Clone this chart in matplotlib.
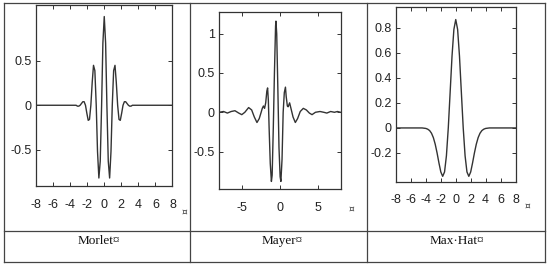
import matplotlib.pyplot as plt

# Morlet wavelet
morlet_x = [-8, -3.3, -3.14, -2.98, -2.83, -2.67, -2.51, -2.36, -2.2, -2.04, -1.88, -1.73,
            -1.57, -1.41, -1.26, -1.1, -0.94, -0.79, -0.63, -0.47, -0.31, -0.16, 0,
            0.16, 0.31, 0.47, 0.63, 0.79, 0.94, 1.1, 1.26, 1.41, 1.57, 1.73, 1.88,
            2.04, 2.2, 2.36, 2.51, 2.67, 2.83, 2.98, 3.14, 3.3, 8]
morlet_y = [0, 0, -0.01, -0.01, 0, 0.02, 0.04, 0.04, 0, -0.09, -0.17, -0.16,
            0, 0.26, 0.45, 0.39, 0, -0.52, -0.82, -0.63, 0, 0.7, 1.0,
            0.7, 0, -0.63, -0.82, -0.52, 0, 0.39, 0.45, 0.26, 0, -0.16, -0.17,
            -0.09, 0, 0.04, 0.04, 0.02, 0, -0.01, -0.01, 0, 0]

# Meyer wavelet
meyer_x = [-8.0, -7.4, -6.9, -6.4, -5.9, -5.4, -5.0, -4.6, -4.1, -3.7, -3.35, -3.0,
           -2.7, -2.45, -2.3, -2.15, -2.0, -1.85, -1.7, -1.6, -1.5, -1.4, -1.25,
           -1.1, -1.0, -0.85, -0.7, -0.55, -0.5, -0.4, -0.25, -0.1, 0.05, 0.15,
           0.3, 0.45, 0.6, 0.75, 0.85, 1.0, 1.1, 1.3, 1.45, 1.75, 2.05, 2.35,
           2.7, 3.1, 3.5, 3.9, 4.25, 4.7, 5.3, 5.8, 6.2, 6.7, 7.2, 7.6, 8.0]
meyer_y = [0.0, 0.01, -0.01, 0.01, 0.02, -0.01, -0.03, 0.0, 0.06, 0.03, -0.06, -0.13,
           -0.08, 0.0, 0.05, 0.08, 0.05, 0.12, 0.27, 0.31, 0.15, -0.2, -0.65,
           -0.88, -0.8, -0.2, 0.5, 1.1, 1.16, 1.0, 0.3, -0.45, -0.82, -0.88,
           -0.6, 0.0, 0.25, 0.32, 0.2, 0.08, 0.07, 0.12, 0.06, -0.06, -0.13, -0.08,
           0.01, 0.05, 0.03, -0.01, -0.03, 0.0, 0.01, 0.0, -0.01, 0.01, 0.0, 0.01, 0.0]

# Mexican hat wavelet
hat_x = [-8, -4.5, -4.0, -3.75, -3.5, -3.25, -3.0, -2.75, -2.5, -2.25, -2.0, -1.75,
         -1.5, -1.25, -1.0, -0.75, -0.5, -0.25, 0, 0.25, 0.5, 0.75, 1.0, 1.25,
         1.5, 1.75, 2.0, 2.25, 2.5, 2.75, 3.0, 3.25, 3.5, 3.75, 4.0, 4.5, 8]
hat_y = [0, 0, -0.004, -0.01, -0.021, -0.042, -0.077, -0.13, -0.2, -0.28, -0.352, -0.387,
         -0.352, -0.223, 0, 0.286, 0.574, 0.788, 0.867, 0.788, 0.574, 0.286, 0, -0.223,
         -0.352, -0.387, -0.352, -0.28, -0.2, -0.13, -0.077, -0.042, -0.021, -0.01, -0.004, 0, 0]

labels = ['Morlet¤', 'Mayer¤', 'Max·Hat¤']

W, H = 550, 266
fig = plt.figure(figsize=(W / 100, H / 100), dpi=100)


def box(l, t, r, b):
    return [l / W, 1 - b / H, (r - l) / W, (b - t) / H]


# table grid in pixel coords
bg = fig.add_axes([0, 0, 1, 1])
bg.set_xlim(0, W)
bg.set_ylim(H, 0)
bg.axis('off')
tc = '#444444'
for xx in [4, 190, 367, 545]:
    bg.plot([xx, xx], [3, 262], color=tc, lw=0.9)
for yy in [3, 230.5, 262]:
    bg.plot([4, 545], [yy, yy], color=tc, lw=0.9)

# column labels and paragraph marks
for cx, lab in zip([99, 282, 457], labels):
    bg.text(cx, 241, lab, ha='center', va='center', fontsize=9.5,
            family=['Liberation Serif', 'DejaVu Serif'], color='#111111')
for (px, py) in [(184, 212), (351, 209), (527, 206)]:
    bg.text(px, py, '¤', ha='center', va='center', fontsize=6.5, color='#333333')

panels = [
    (box(36, 5, 172.5, 186), morlet_x, morlet_y, (-0.91, 1.13),
     [-0.5, 0, 0.5], ['-0.5', '0', '0.5'], list(range(-8, 9, 2))),
    (box(219, 11.7, 340.5, 189.3), meyer_x, meyer_y, (-0.98, 1.28),
     [-0.5, 0, 0.5, 1], ['-0.5', '0', '0.5', '1'], [-5, 0, 5]),
    (box(396, 7.3, 515.5, 181.7), hat_x, hat_y, (-0.43, 0.965),
     [-0.2, 0, 0.2, 0.4, 0.6, 0.8], ['-0.2', '0', '0.2', '0.4', '0.6', '0.8'],
     list(range(-8, 9, 2))),
]

for rect, xs, ys, ylim, yt, ytl, xt in panels:
    ax = fig.add_axes(rect)
    ax.plot(xs, ys, color='#333333', lw=1.0)
    ax.set_xlim(-8, 8)
    ax.set_ylim(*ylim)
    ax.set_yticks(yt)
    ax.set_yticklabels(ytl)
    ax.set_xticks(xt)
    ax.set_xticklabels([str(v) for v in xt])
    for s in ax.spines.values():
        s.set_color('#333333')
        s.set_linewidth(0.9)
    ax.tick_params(direction='in', length=3, width=0.7, color='#333333',
                   top=True, right=True, labelsize=9, labelcolor='#222222')
    ax.tick_params(axis='x', pad=9)
    ax.tick_params(axis='y', pad=3)
    for t in ax.get_xticklabels() + ax.get_yticklabels():
        t.set_family('Liberation Sans')

fig.savefig('out.png', dpi=100)
